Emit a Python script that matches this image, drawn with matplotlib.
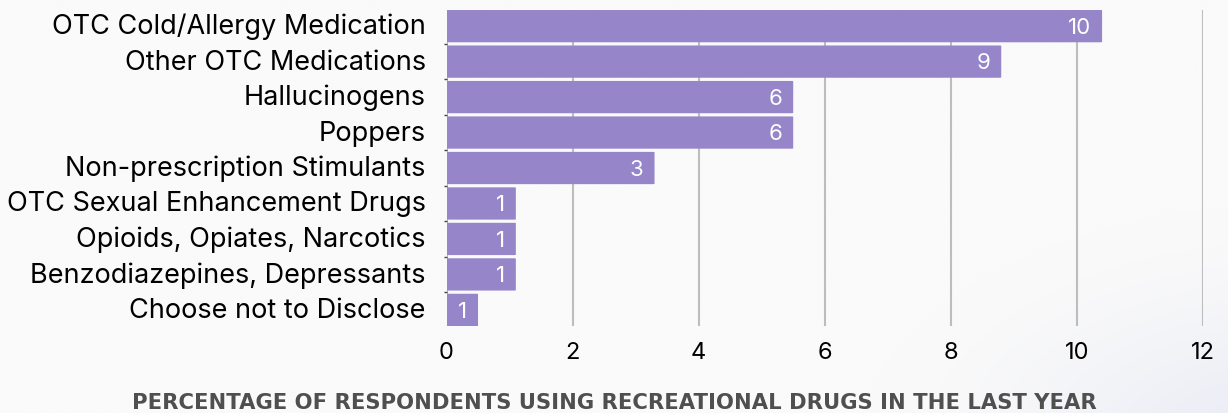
import numpy as np
import matplotlib
matplotlib.use("Agg")
import matplotlib.pyplot as plt
from matplotlib.patches import FancyBboxPatch
from matplotlib.transforms import ScaledTranslation

categories = [
    "OTC Cold/Allergy Medication",
    "Other OTC Medications",
    "Hallucinogens",
    "Poppers",
    "Non-prescription Stimulants",
    "OTC Sexual Enhancement Drugs",
    "Opioids, Opiates, Narcotics",
    "Benzodiazepines, Depressants",
    "Choose not to Disclose",
]
percentages = [10.4, 8.8, 5.5, 5.5, 3.3, 1.1, 1.1, 1.1, 0.5]
x_ticks = [0, 2, 4, 6, 8, 10, 12]
x_title = "PERCENTAGE OF RESPONDENTS USING RECREATIONAL DRUGS IN THE LAST YEAR"

BAR_COLOR = "#9686c9"
BG = "#fafafa"
BAR_H = 0.91

plt.rcParams["font.family"] = ["Inter", "DejaVu Sans"]

fig = plt.figure(figsize=(12.28, 4.14), dpi=100, facecolor=BG)

# soft lavender glow in the lower right corner
bg_ax = fig.add_axes([0, 0, 1, 1], zorder=-10)
yy, xx = np.mgrid[0:1:200j, 0:1:600j]
dist = np.sqrt(((xx - 1.05) / 0.35) ** 2 + ((yy - 1.1) / 0.6) ** 2)
glow = np.clip(1 - dist, 0, 1) ** 1.5
base = np.array([0xfa, 0xfa, 0xfa]) / 255
tint = np.array([0xe6, 0xe8, 0xf4]) / 255
img = base + (tint - base) * glow[..., None]
bg_ax.imshow(img, extent=[0, 1, 0, 1], aspect="auto", origin="upper")
bg_ax.axis("off")

ax = fig.add_axes([0.3636, 0.2101, 0.6160, 0.7633])
ax.set_facecolor("none")

y = np.arange(len(categories))
bars = ax.barh(y, percentages, height=BAR_H, color="none", edgecolor="none")
for b in bars:
    # rounded bar with a tiny corner radius
    x0, y0 = b.get_x(), b.get_y()
    w, h = b.get_width(), b.get_height()
    patch = FancyBboxPatch(
        (x0, y0), w, h,
        boxstyle="round,pad=0,rounding_size=0.04",
        mutation_aspect=1 / 6,
        facecolor=BAR_COLOR, edgecolor="none", zorder=3,
    )
    ax.add_patch(patch)

for yi, v in zip(y, percentages):
    ax.text(v - 0.17, yi + 0.02, f"{int(v + 0.5)}", ha="right", va="center",
            color="white", fontsize=16, zorder=4)

ax.set_xlim(0, 12)
ax.set_ylim(len(categories) - 1 + BAR_H / 2, -BAR_H / 2)
ax.set_xticks(x_ticks)
ax.set_xticklabels([str(t) for t in x_ticks], fontsize=17)
ax.set_yticks(y)
ax.set_yticklabels(categories, fontsize=19.5)
ax.tick_params(axis="x", length=0, pad=11, colors="black")
ax.tick_params(axis="y", length=0, pad=15, colors="black")
# nudge category names up a little
shift = ScaledTranslation(0, 3 / 100, fig.dpi_scale_trans)
for lbl in ax.get_yticklabels():
    lbl.set_transform(lbl.get_transform() + shift)
ax.set_yticks(y[:-1] + 0.5, minor=True)
ax.tick_params(axis="y", which="minor", length=2, width=1, color="#444444")
ax.xaxis.grid(True, color="#bdbdbd", linewidth=1.5, zorder=0)
ax.set_axisbelow(True)
for s in ax.spines.values():
    s.set_visible(False)

fig.text(0.500, 0.027, x_title, ha="center", va="center", fontsize=15.2,
         fontweight="bold", color="#4f4f4f", family=["DejaVu Sans"])

fig.savefig("out.png", dpi=100, facecolor=BG)
